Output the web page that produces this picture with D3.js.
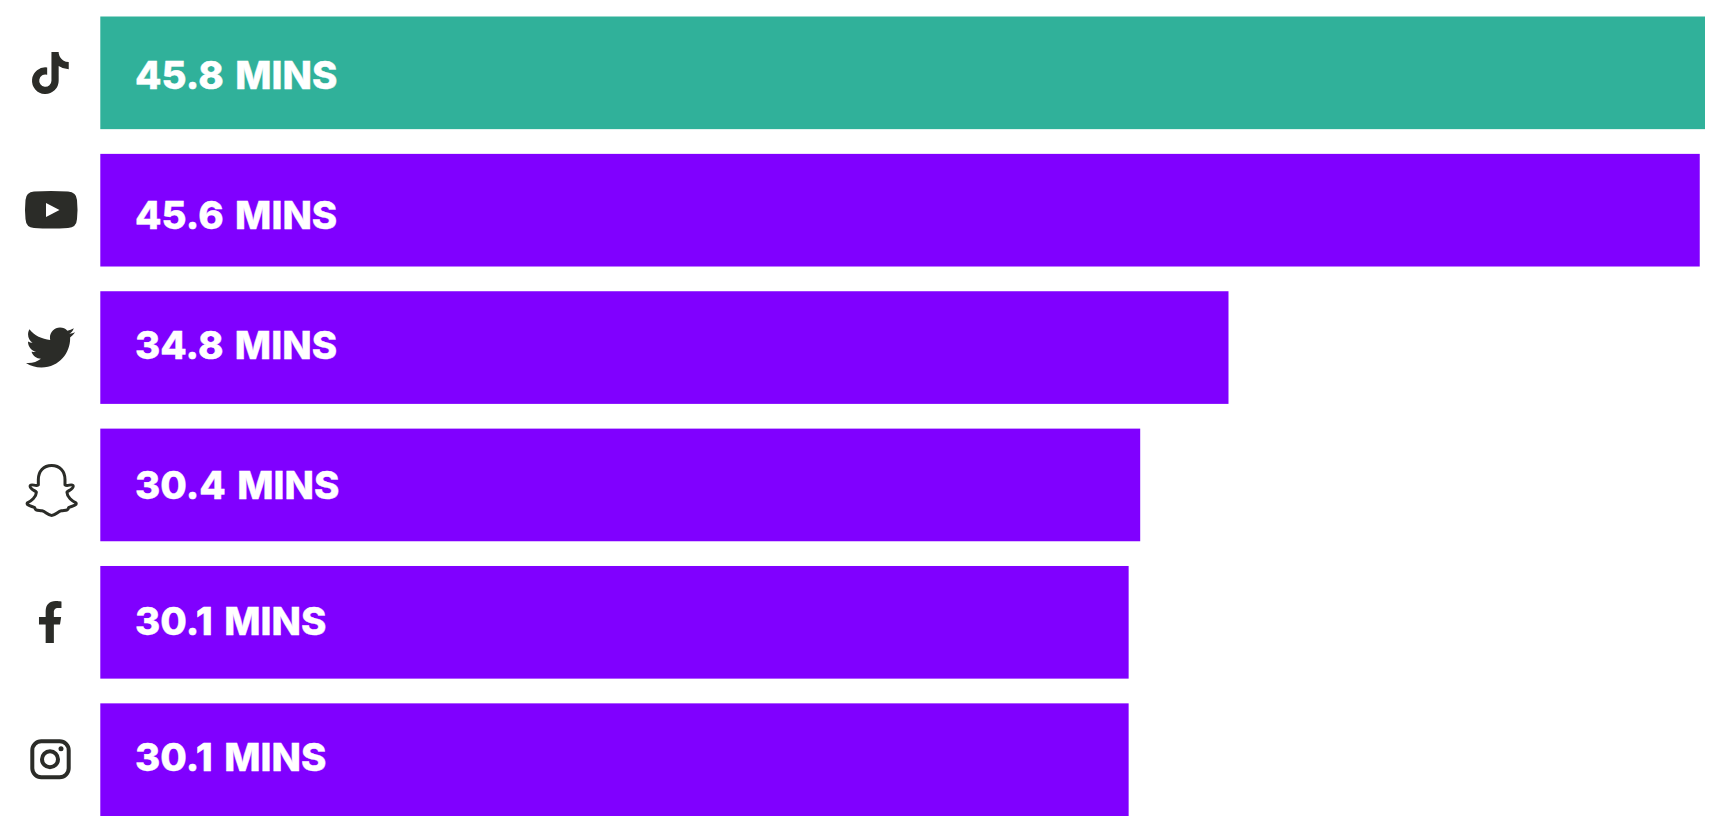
<!DOCTYPE html>
<html>
<head>
<meta charset="utf-8">
<script src="https://cdn.jsdelivr.net/npm/d3@7"></script>
<style>
    body { margin: 0; background: #fff; }
    svg { display: block; }
    .barLabel { font-family: Inter, sans-serif; font-weight: 800; font-size: 38.5px; word-spacing: 3px; fill: #fff; stroke: #fff; stroke-width: 0.4px; }
</style>
</head>
<body>
<script>
var platforms = ["TikTok", "YouTube", "Twitter", "Snapchat", "Facebook", "Instagram"];
// what the bars say
var minutes = [45.8, 45.6, 34.8, 30.4, 30.1, 30.1];
// how long the bars are drawn (not proportional to the labels)
var barLengths = [45.8, 45.65, 32.2, 29.68, 29.35, 29.35];
var unitLabel = "MINS";
var highlight = "TikTok";

var width = 1736,
    height = 837,
    ink = "#2b2c28";

var svg = d3.select("body").append("svg")
    .attr("width", width)
    .attr("height", height);

var x = d3.scaleLinear().domain([0, 45.8]).range([100.3, 1705]);
var y = d3.scaleBand().domain(platforms).range([16.5, 816]).paddingInner(0.18);
var color = function(p) { return p == highlight ? "#30b19a" : "#8000ff"; };

// labels do not sit exactly mid bar in the original
var labelNudge = [1.5, 3.5, -4, -0.5, -2.5, -4];

svg.selectAll(".bar")
    .data(platforms)
    .enter().append("rect")
    .attr("class", "bar")
    .attr("x", x(0))
    .attr("y", function(d) { return y(d); })
    .attr("width", function(d, i) { return x(barLengths[i]) - x(0); })
    .attr("height", y.bandwidth())
    .attr("fill", color);

svg.selectAll(".barLabel")
    .data(platforms)
    .enter().append("text")
    .attr("class", "barLabel")
    .attr("x", 135)
    .attr("y", function(d, i) { return y(d) + y.bandwidth() / 2 + 15 + labelNudge[i]; })
    .text(function(d, i) { return minutes[i].toFixed(1) + " " + unitLabel; });

// Icons
var icons = svg.append("g").attr("class", "icons");

icons.append("path")  // tiktok
    .attr("transform", "translate(32,52) scale(0.082)")
    .attr("fill", ink)
    .attr("d", "M448,209.91a210.06,210.06,0,0,1-122.77-39.25V349.38A162.55,162.55,0,1,1,185,188.31V278.2a74.62,74.62,0,1,0,52.23,71.18V0l88,0a121.18,121.18,0,0,0,1.86,22.17h0A122.18,122.18,0,0,0,381,102.39a121.43,121.43,0,0,0,67,20.14Z");

icons.append("path")  // youtube
    .attr("fill", ink)
    .attr("d", "M34 191.5 Q51 190.5 68 191.5 Q76.5 192 77 200 Q78 209.5 77 219 Q76.5 227.5 68 228 Q51 229 34 228 Q26 227.5 25.5 219 Q24.5 209.5 25.5 200 Q26 192 34 191.5Z");
icons.append("path")
    .attr("fill", "#fff")
    .attr("d", "M46 203 L59.5 210 L46 217Z");

icons.append("path")  // twitter
    .attr("transform", "translate(26,322.9) scale(0.096)")
    .attr("fill", ink)
    .attr("d", "M459.37 151.716c.325 4.548.325 9.097.325 13.645 0 138.72-105.583 298.558-298.558 298.558-59.452 0-114.68-17.219-161.137-47.106 8.447.974 16.568 1.299 25.34 1.299 49.055 0 94.213-16.568 130.274-44.832-46.132-.975-84.792-31.188-98.112-72.772 6.498.974 12.995 1.624 19.818 1.624 9.421 0 18.843-1.3 27.614-3.573-48.081-9.747-84.143-51.98-84.143-102.985v-1.299c13.969 7.797 30.214 12.67 47.431 13.319-28.264-18.843-46.781-51.005-46.781-87.391 0-19.492 5.197-37.36 14.294-52.954 51.655 63.675 129.3 105.258 216.365 109.807-1.624-7.797-2.599-15.918-2.599-24.04 0-57.828 46.782-104.934 104.934-104.934 30.213 0 57.502 12.67 76.67 33.137 23.715-4.548 46.456-13.32 66.599-25.34-7.798 24.366-24.366 44.833-46.132 57.827 21.117-2.273 41.584-8.122 60.426-16.243-14.292 20.791-32.161 39.308-52.628 54.253z");

icons.append("path")  // snapchat
    .attr("transform", "translate(14,455.5) scale(0.3333)")
    .attr("fill", "none")
    .attr("stroke", ink)
    .attr("stroke-width", 9)
    .attr("stroke-linejoin", "round")
    .attr("d", "M113 30 C88 30 73 48 73 72 L73 88 C66 94 54 84 49 90 C44 98 64 106 67 110 C68 124 50 138 40 142 C36 150 54 152 62 156 C64 166 70 164 84 166 C94 168 102 180 113 180 C124 180 132 168 142 166 C156 164 162 166 164 156 C172 152 190 150 186 142 C176 138 158 124 159 110 C162 106 182 98 177 90 C172 84 160 94 153 88 L153 72 C153 48 138 30 113 30Z");

icons.append("path")  // facebook
    .attr("transform", "translate(37.1,601) scale(0.082)")
    .attr("fill", ink)
    .attr("d", "M279.14 288l14.22-92.66h-88.91v-60.13c0-25.35 12.42-50.06 52.24-50.06h40.42V6.26S260.43 0 225.36 0c-73.22 0-121.08 44.38-121.08 124.72v70.62H22.89V288h81.39v224h100.17V288z");

var insta = icons.append("g");  // instagram
insta.append("rect")
    .attr("x", 32.3).attr("y", 741.3)
    .attr("width", 36.4).attr("height", 36)
    .attr("rx", 9)
    .attr("fill", "none").attr("stroke", ink).attr("stroke-width", 4);
insta.append("circle")
    .attr("cx", 50).attr("cy", 759.3).attr("r", 8)
    .attr("fill", "none").attr("stroke", ink).attr("stroke-width", 4);
insta.append("circle")
    .attr("cx", 61).attr("cy", 748.7).attr("r", 2.5)
    .attr("fill", ink);
</script>
</body>
</html>
